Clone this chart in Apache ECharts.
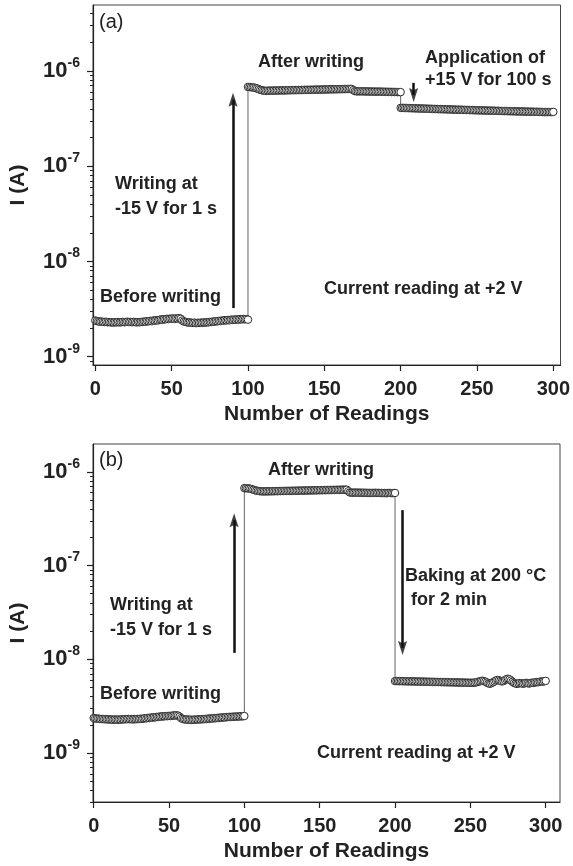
<!DOCTYPE html>
<html>
<head>
<meta charset="utf-8">
<script src="https://cdn.jsdelivr.net/npm/echarts@6/dist/echarts.min.js"></script>
<style>
  html, body { margin: 0; padding: 0; background: #fff; }
  #chart { width: 573px; height: 866px; }
</style>
</head>
<body>
<div id="chart"></div>
<script>
// ---------- data: current readings (A), read at +2 V ----------
// Panel (a): before writing (nA), readings 0..100
const aBeforeNA = [
  2.40, 2.37, 2.35, 2.33, 2.34, 2.32, 2.31, 2.33, 2.30, 2.31,
  2.29, 2.30, 2.28, 2.30, 2.29, 2.31, 2.29, 2.30, 2.32, 2.30,
  2.31, 2.33, 2.31, 2.32, 2.30, 2.32, 2.31, 2.29, 2.31, 2.30,
  2.32, 2.31, 2.34, 2.33, 2.36, 2.35, 2.38, 2.36, 2.40, 2.39,
  2.42, 2.40, 2.44, 2.46, 2.44, 2.48, 2.47, 2.50, 2.48, 2.51,
  2.50, 2.52, 2.49, 2.53, 2.51, 2.54, 2.50, 2.40, 2.34, 2.32,
  2.30, 2.28, 2.29, 2.27, 2.26, 2.28, 2.25, 2.27, 2.26, 2.28,
  2.27, 2.29, 2.28, 2.30, 2.29, 2.32, 2.31, 2.34, 2.33, 2.36,
  2.35, 2.38, 2.36, 2.40, 2.39, 2.42, 2.40, 2.43, 2.41, 2.45,
  2.43, 2.46, 2.44, 2.47, 2.45, 2.48, 2.46, 2.49, 2.47, 2.48,
  2.45
];
// Panel (a): after writing (x1e-7 A), readings 100..200
const aAfterE7 = [
  6.80, 6.78, 6.75, 6.72, 6.70, 6.62, 6.55, 6.45, 6.35, 6.28, 6.24, 6.20, 6.18,
  6.22, 6.20, 6.23, 6.21, 6.24, 6.21, 6.25, 6.23, 6.26, 6.24,
  6.27, 6.24, 6.28, 6.26, 6.29, 6.28, 6.30, 6.28, 6.31, 6.29,
  6.32, 6.30, 6.33, 6.31, 6.34, 6.33, 6.35, 6.33,
  6.36, 6.34, 6.37, 6.36, 6.38, 6.36, 6.39, 6.37, 6.40, 6.38,
  6.41, 6.39, 6.42, 6.41, 6.43, 6.41, 6.44, 6.42, 6.45, 6.43,
  6.46, 6.44, 6.47, 6.45, 6.48, 6.46, 6.49, 6.47,
  6.30, 6.15,
  6.12, 6.10, 6.13, 6.11, 6.12, 6.10, 6.11, 6.09, 6.10, 6.08,
  6.09, 6.07, 6.08, 6.06, 6.08, 6.06, 6.07, 6.05, 6.06, 6.04,
  6.05, 6.03, 6.04, 6.02, 6.03, 6.01, 6.02, 6.00, 6.01, 6.00
];
// Panel (a): after +15 V for 100 s (x1e-7 A), readings 200..300
const aStressE7 = [
  4.10, 4.09, 4.10, 4.08, 4.09, 4.07, 4.08, 4.06, 4.07, 4.05,
  4.06, 4.04, 4.05, 4.03, 4.04, 4.02, 4.03, 4.01, 4.02, 4.00,
  4.01, 3.99, 4.00, 3.98, 3.99, 3.97, 3.98, 3.97, 3.96, 3.97,
  3.95, 3.96, 3.94, 3.95, 3.93, 3.94, 3.93, 3.92, 3.93, 3.91,
  3.92, 3.90, 3.91, 3.89, 3.90, 3.89, 3.88, 3.89, 3.87, 3.88,
  3.86, 3.87, 3.86, 3.85, 3.86, 3.84, 3.85, 3.84, 3.83, 3.84,
  3.82, 3.83, 3.82, 3.81, 3.82, 3.80, 3.81, 3.80, 3.79, 3.80,
  3.79, 3.78, 3.79, 3.77, 3.78, 3.77, 3.76, 3.77, 3.76, 3.75,
  3.76, 3.75, 3.74, 3.75, 3.74, 3.73, 3.74, 3.73, 3.72, 3.73,
  3.72, 3.71, 3.72, 3.71, 3.70, 3.71, 3.70, 3.71, 3.70, 3.70,
  3.72
];
// Panel (b): before writing (nA), readings 0..100
const bBeforeNA = [
  2.36, 2.34, 2.32, 2.33, 2.31, 2.30, 2.31, 2.29, 2.30, 2.28,
  2.29, 2.27, 2.28, 2.26, 2.28, 2.27, 2.26, 2.28, 2.27, 2.29,
  2.28, 2.30, 2.29, 2.31, 2.29, 2.30, 2.28, 2.30, 2.29, 2.31,
  2.30, 2.32, 2.31, 2.33, 2.35, 2.34, 2.37, 2.36, 2.39, 2.38,
  2.41, 2.40, 2.43, 2.42, 2.45, 2.44, 2.47, 2.46, 2.48, 2.47,
  2.49, 2.48, 2.50, 2.52, 2.51, 2.53, 2.50, 2.44, 2.36, 2.31,
  2.29, 2.27, 2.28, 2.26, 2.27, 2.25, 2.27, 2.26, 2.28, 2.27,
  2.29, 2.28, 2.30, 2.29, 2.31, 2.30, 2.33, 2.32, 2.34, 2.33,
  2.36, 2.35, 2.37, 2.36, 2.39, 2.38, 2.40, 2.39, 2.42, 2.41,
  2.43, 2.42, 2.44, 2.43, 2.45, 2.44, 2.46, 2.45, 2.47, 2.46,
  2.48
];
// Panel (b): after writing (x1e-7 A), readings 100..200
const bAfterE7 = [
  6.70, 6.68, 6.66, 6.64, 6.60, 6.52, 6.44, 6.36, 6.30, 6.25, 6.22, 6.20, 6.18,
  6.19, 6.17, 6.20, 6.18, 6.21, 6.19, 6.22, 6.20, 6.23, 6.21,
  6.24, 6.22, 6.25, 6.23, 6.26, 6.24, 6.27, 6.25, 6.28, 6.26,
  6.29, 6.27, 6.30, 6.28, 6.31, 6.29, 6.32, 6.30,
  6.33, 6.31, 6.34, 6.32, 6.35, 6.33, 6.36, 6.34, 6.37, 6.35,
  6.38, 6.36, 6.39, 6.37, 6.40, 6.38, 6.41, 6.39, 6.42, 6.40,
  6.43, 6.41, 6.44, 6.42, 6.45, 6.43, 6.46, 6.44,
  6.20, 6.02,
  6.00, 5.98, 6.01, 5.99, 6.00, 5.98, 5.99, 5.97, 5.98, 5.96,
  5.97, 5.95, 5.96, 5.94, 5.96, 5.95, 5.97, 5.95, 5.96, 5.94,
  5.95, 5.93, 5.94, 5.92, 5.93, 5.95, 5.94, 5.92, 5.93, 5.95
];
// Panel (b): after baking at 200 °C for 2 min (nA), readings 200..300
const bBakedNA = [
  5.85, 5.86, 5.85, 5.84, 5.85, 5.83, 5.84, 5.82, 5.83, 5.81,
  5.82, 5.80, 5.81, 5.79, 5.80, 5.78, 5.79, 5.77, 5.78, 5.76,
  5.77, 5.75, 5.76, 5.74, 5.75, 5.73, 5.74, 5.72, 5.73, 5.71,
  5.72, 5.70, 5.71, 5.69, 5.70, 5.68, 5.69, 5.67, 5.68, 5.66,
  5.67, 5.65, 5.66, 5.64, 5.65, 5.63, 5.64, 5.62, 5.63, 5.61,
  5.62, 5.60, 5.62, 5.64, 5.68, 5.74, 5.80, 5.86, 5.90, 5.84,
  5.76, 5.64, 5.52, 5.48, 5.56, 5.68, 5.80, 5.94, 6.02, 5.96,
  5.88, 5.80, 5.86, 6.00, 6.14, 6.20, 6.10, 5.92, 5.74, 5.60,
  5.50, 5.46, 5.52, 5.58, 5.54, 5.48, 5.53, 5.60, 5.56, 5.51,
  5.57, 5.63, 5.60, 5.67, 5.71, 5.68, 5.75, 5.79, 5.77, 5.83,
  5.88
];
// first reading number of each segment
const segmentStarts = [0, 100, 200];

// axis ranges
const xRangeA = [-1.5, 304.7];
const xRangeB = [-0.46, 309.5];
const yRangeA = [8.18e-10, 4.93e-6];   // A
const yRangeB = [3.0e-10, 1.98e-6];    // A
const xTickValues = [0, 50, 100, 150, 200, 250, 300];
const yDecades = [-9, -8, -7, -6];      // labelled powers of ten

// arrows: [reading, tail (A), head (A)]
const arrowsA = [[90.2, 3.24e-9, 5.0e-7], [208.5, 7.5e-7, 5.6e-7]];
const arrowsB = [[93.2, 1.17e-8, 3.05e-7], [205.0, 3.9e-7, 1.32e-8]];

// ---------- helpers ----------
const FONT = "'Liberation Sans', Arial, Helvetica, sans-serif";
const INK = '#222';

function buildPoints(segs) {
  const pts = [];
  segs.forEach(([start, vals, unit]) => {
    vals.forEach((v, i) => pts.push([start + i, Math.log10(v * unit)]));
  });
  return pts;
}

function minorTicks(range) {
  const lo = Math.log10(range[0]), hi = Math.log10(range[1]);
  const out = [];
  for (let n = -11; n <= -4; n++) {
    for (let k = 2; k <= 9; k++) {
      const v = n + Math.log10(k);
      if (v >= lo && v <= hi) out.push(v);
    }
  }
  return out;
}

function xAxisFor(gridIndex, range) {
  return {
    type: 'value', gridIndex, min: range[0], max: range[1],
    axisLine: { show: true, onZero: false, lineStyle: { color: INK, width: 1.2 } },
    axisTick: { show: true, length: 6, customValues: xTickValues, lineStyle: { color: INK, width: 1.2 } },
    axisLabel: { customValues: xTickValues, margin: 14, color: INK, fontSize: 20, fontWeight: 'bold', fontFamily: FONT },
    splitLine: { show: false },
    name: 'Number of Readings', nameLocation: 'middle', nameGap: 39,
    nameTextStyle: { color: INK, fontSize: 21, fontWeight: 'bold', fontFamily: FONT }
  };
}

function yMajorFor(gridIndex, range) {
  const lo = Math.log10(range[0]), hi = Math.log10(range[1]);
  return {
    type: 'value', gridIndex, min: lo, max: hi, position: 'left',
    axisLine: { show: true, onZero: false, lineStyle: { color: INK, width: 1.2 } },
    axisTick: { show: true, length: 6, customValues: yDecades, lineStyle: { color: INK, width: 1.2 } },
    axisLabel: {
      customValues: yDecades, margin: 13,
      formatter: v => '{b|10}{s|' + Math.round(v) + '}',
      rich: {
        b: { fontSize: 22, fontWeight: 'bold', fontFamily: FONT, color: INK, lineHeight: 30 },
        s: { fontSize: 14, fontWeight: 'bold', fontFamily: FONT, color: INK, verticalAlign: 'top' }
      }
    },
    splitLine: { show: false },
    name: 'I (A)', nameLocation: 'middle', nameGap: 64,
    nameTextStyle: { color: INK, fontSize: 21, fontWeight: 'bold', fontFamily: FONT }
  };
}

function yMinorFor(gridIndex, range) {
  return {
    type: 'value', gridIndex, min: Math.log10(range[0]), max: Math.log10(range[1]), position: 'left',
    axisLine: { show: false, onZero: false },
    axisTick: { show: true, length: 3, customValues: minorTicks(range), lineStyle: { color: INK, width: 1 } },
    axisLabel: { show: false },
    splitLine: { show: false }
  };
}

// arrow shafts, drawn as mark lines in data coordinates
function arrowShafts(list) {
  return {
    silent: true,
    animation: false,
    symbol: ['none', 'none'],
    lineStyle: { color: '#111', width: 2.5, type: 'solid' },
    label: { show: false },
    emphasis: { disabled: true },
    data: list.map(([x, a, b]) => [
      { coord: [x, Math.log10(a)] },
      { coord: [x, Math.log10(b)] }
    ])
  };
}

// arrow heads, one filled triangle per arrow, pointing from tail to head
function arrowHeads(xi, yi, list) {
  return {
    type: 'scatter', xAxisIndex: xi, yAxisIndex: yi, silent: true, animation: false, z: 5,
    symbol: 'path://M5,0 L10,16 L5,13.5 L0,16 Z',
    symbolSize: [9, 14],
    itemStyle: { color: '#111' },
    emphasis: { disabled: true },
    data: list.map(([x, a, b]) => ({
      value: [x, Math.log10(b)],
      symbolRotate: b > a ? 0 : 180
    }))
  };
}

function readingSeries(xi, yi, points, arrows) {
  return {
    type: 'line', xAxisIndex: xi, yAxisIndex: yi, data: points,
    symbol: 'circle', symbolSize: 7.5, showSymbol: true, showAllSymbol: true,
    itemStyle: { color: '#fff', borderColor: '#2b2b2b', borderWidth: 1 },
    lineStyle: { color: '#666', width: 1 },
    emphasis: { disabled: true },
    animation: false,
    markLine: arrowShafts(arrows)
  };
}

// annotation text: [text, left, middle-y, weight]
const notes = [
  ['(a)', 99, 22, 'normal'],
  ['After writing', 258, 62, 'bold'],
  ['Application of', 425, 58, 'bold'],
  ['+15 V for 100 s', 425, 80, 'bold'],
  ['Writing at', 115, 184, 'bold'],
  ['-15 V for 1 s', 115, 209, 'bold'],
  ['Before writing', 100, 297, 'bold'],
  ['Current reading at +2 V', 324, 289, 'bold'],
  ['(b)', 99, 460, 'normal'],
  ['After writing', 268, 470, 'bold'],
  ['Writing at', 110, 605, 'bold'],
  ['-15 V for 1 s', 110, 630, 'bold'],
  ['Before writing', 100, 694, 'bold'],
  ['Baking at 200 °C', 405, 576, 'bold'],
  ['for 2 min', 411, 600, 'bold'],
  ['Current reading at +2 V', 317, 753, 'bold']
];

const pointsA = buildPoints([
  [segmentStarts[0], aBeforeNA, 1e-9],
  [segmentStarts[1], aAfterE7, 1e-7],
  [segmentStarts[2], aStressE7, 1e-7]
]);
const pointsB = buildPoints([
  [segmentStarts[0], bBeforeNA, 1e-9],
  [segmentStarts[1], bAfterE7, 1e-7],
  [segmentStarts[2], bBakedNA, 1e-9]
]);

const chart = echarts.init(document.getElementById('chart'), null, { renderer: 'canvas' });
chart.setOption({
  animation: false,
  backgroundColor: '#fff',
  grid: [
    { left: 92, top: 5, width: 471, height: 360, show: true, borderColor: '#444', borderWidth: 1 },
    { left: 91, top: 444, width: 469, height: 358, show: true, borderColor: '#444', borderWidth: 1 }
  ],
  xAxis: [xAxisFor(0, xRangeA), xAxisFor(1, xRangeB)],
  yAxis: [yMajorFor(0, yRangeA), yMinorFor(0, yRangeA), yMajorFor(1, yRangeB), yMinorFor(1, yRangeB)],
  series: [
    readingSeries(0, 0, pointsA, arrowsA),
    readingSeries(1, 2, pointsB, arrowsB),
    arrowHeads(0, 0, arrowsA),
    arrowHeads(1, 2, arrowsB)
  ],
  graphic: notes.map(([t, x, y, w]) => ({
    type: 'text', x, y, silent: true,
    style: {
      text: t, fill: INK, align: 'left', verticalAlign: 'middle',
      font: (w === 'bold' ? 'bold ' : '') + (w === 'bold' ? 18 : 20) + 'px ' + FONT
    }
  }))
});
</script>
</body>
</html>
